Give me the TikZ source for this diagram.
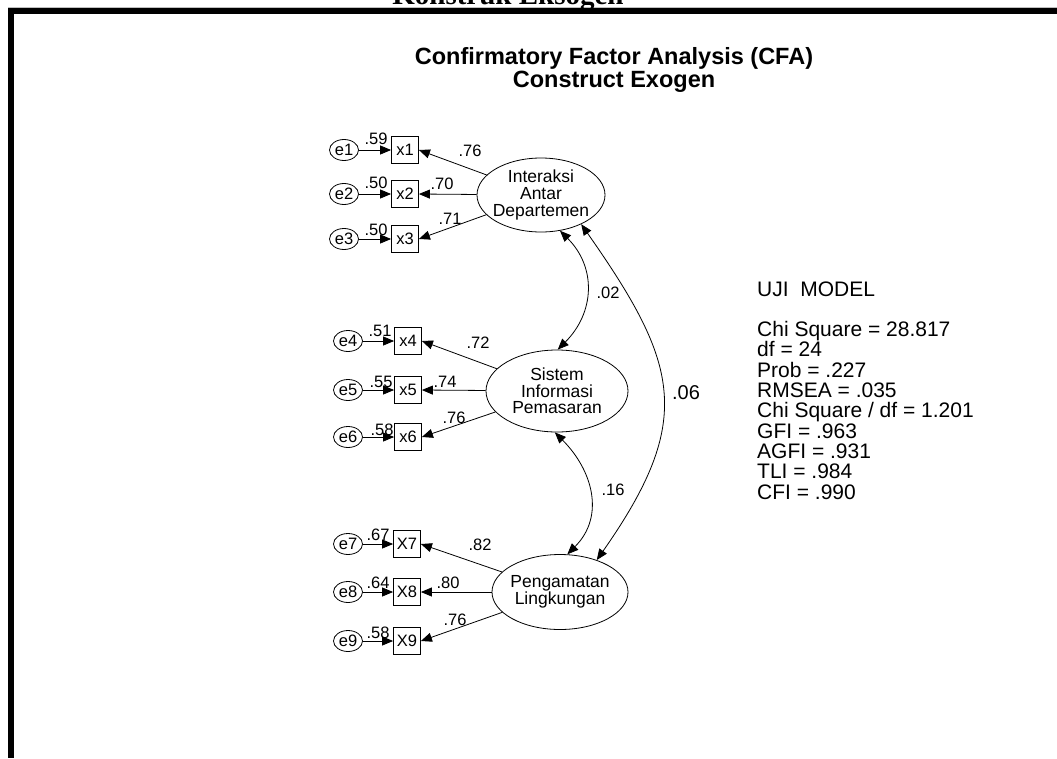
\documentclass[tikz,border=0pt]{standalone}
\usepackage{fontspec}
\setmainfont{Liberation Sans}
\newfontfamily\headserif{Liberation Serif}
\usetikzlibrary{shapes.geometric,arrows.meta}
\begin{document}
\begin{tikzpicture}[x=1pt,y=-1pt,
  obs/.style={draw,rectangle,minimum width=27pt,minimum height=27pt,inner sep=0pt,line width=0.8pt,font=\fontsize{16.5}{16.5}\selectfont},
  err/.style={draw,ellipse,minimum width=29pt,minimum height=21pt,inner sep=0pt,line width=0.8pt,font=\fontsize{16.5}{16.5}\selectfont},
  lat/.style={draw,ellipse,inner sep=0pt,line width=0.8pt},
  lattext/.style={align=center,font=\fontsize{17.5}{16.7}\selectfont,inner sep=0pt},
  coef/.style={font=\fontsize{16.5}{16.5}\selectfont,inner sep=0pt},
  stat/.style={font=\fontsize{21}{21}\selectfont,inner sep=0pt,anchor=base west},
  arr/.style={-{Triangle[length=11pt,width=9pt]},line width=0.8pt},
  dbl/.style={{Triangle[length=11pt,width=9pt]}-{Triangle[length=11pt,width=9pt]},line width=0.8pt},
]
\useasboundingbox (0,0) rectangle (1057,758);
\fill[white] (0,0) rectangle (1057,758);
% frame
\draw[gray!50,line width=1pt] (8,7.5) -- (1057,7.5);
\fill[black] (8,8) rectangle (1057,13.5);
\fill[black] (8,8) rectangle (13.5,758);
\node[font=\headserif\bfseries\fontsize{29}{29}\selectfont,anchor=base,inner sep=0pt] (head) at (508,4) {Konstruk Eksogen};
% title
\node[font=\bfseries\fontsize{23.5}{20}\selectfont,align=center,inner sep=0pt,anchor=base] (title) at (614,87) {Confirmatory Factor Analysis (CFA)\\Construct Exogen};

% latent variables
\node[lat,minimum width=128pt,minimum height=74pt] (I1) at (541,195) {};
\node[lattext] (I1t) at (I1) {Interaksi\\Antar\\Departemen};
\node[lat,minimum width=142pt,minimum height=82pt] (S) at (557,391) {};
\node[lattext] (St) at (S) {Sistem\\Informasi\\Pemasaran};
\node[lat,minimum width=136pt,minimum height=75pt] (P) at (560,592) {};
\node[lattext] (Pt) at (P) {Pengamatan\\Lingkungan};

% indicators and errors
\node[obs] (x1) at (405,150) {x1};
\node[obs] (x2) at (405,194) {x2};
\node[obs] (x3) at (405,239) {x3};
\node[obs] (x4) at (408,341) {x4};
\node[obs] (x5) at (408,390) {x5};
\node[obs] (x6) at (408,437) {x6};
\node[obs] (x7) at (407,544) {X7};
\node[obs] (x8) at (407,592) {X8};
\node[obs] (x9) at (407,641) {X9};

\node[err] (e1) at (344,150) {e1};
\node[err] (e2) at (344,194) {e2};
\node[err] (e3) at (344,239) {e3};
\node[err] (e4) at (348,341) {e4};
\node[err] (e5) at (348,390) {e5};
\node[err] (e6) at (348,437) {e6};
\node[err] (e7) at (348,544) {e7};
\node[err] (e8) at (348,592) {e8};
\node[err] (e9) at (348,641) {e9};

% error arrows
\foreach \i in {1,...,9} {\draw[arr] (e\i) -- (x\i);}

% loadings
\draw[arr] (I1) -- (x1.east);
\draw[arr] (I1) -- (x2.east);
\draw[arr] (I1) -- (x3.east);
\draw[arr] (S) -- (x4.east);
\draw[arr] (S) -- (x5.east);
\draw[arr] (S) -- (x6.east);
\draw[arr] (P) -- (x7.east);
\draw[arr] (P) -- (x8.east);
\draw[arr] (P) -- (x9.east);

% covariances
\draw[dbl] (I1.-62) to[out=-45,in=45,looseness=1.12] (S.89);
\draw[dbl] (S.-93) to[out=-45,in=45,looseness=1.12] (P.79);
\draw[dbl] (I1.-36) to[out=-55,in=55,looseness=1.3] (P.41);

% error coefficient labels
\node[coef] (r1) at (376,139) {.59};
\node[coef] (r2) at (376,183) {.50};
\node[coef] (r3) at (376,230) {.50};
\node[coef] (r4) at (380,331) {.51};
\node[coef] (r5) at (381,382) {.55};
\node[coef] (r6) at (382,430) {.58};
\node[coef] (r7) at (378,535) {.67};
\node[coef] (r8) at (378,583) {.64};
\node[coef] (r9) at (378,633) {.58};

% loading labels
\node[coef] (l1) at (470,151) {.76};
\node[coef] (l2) at (442,184) {.70};
\node[coef] (l3) at (450,219) {.71};
\node[coef] (l4) at (478,343) {.72};
\node[coef] (l5) at (445,382) {.74};
\node[coef] (l6) at (454,418) {.76};
\node[coef] (l7) at (480,545) {.82};
\node[coef] (l8) at (448,583) {.80};
\node[coef] (l9) at (455,620) {.76};

% covariance labels
\node[coef] (c1) at (608,293) {.02};
\node[coef] (c2) at (613,490) {.16};
\node[coef,font=\fontsize{20}{20}\selectfont] (c3) at (686,393) {.06};

% model fit
\foreach \t [count=\i from 0] in {{UJI\ \ MODEL},{},{Chi Square = 28.817},{df = 24},{Prob = .227},{RMSEA = .035},{Chi Square / df = 1.201},{GFI = .963},{AGFI = .931},{TLI = .984},{CFI = .990}}
  {\node[stat] (fit\i) at (757,{296+20.3*\i}) {\t};}
\end{tikzpicture}
\end{document}
